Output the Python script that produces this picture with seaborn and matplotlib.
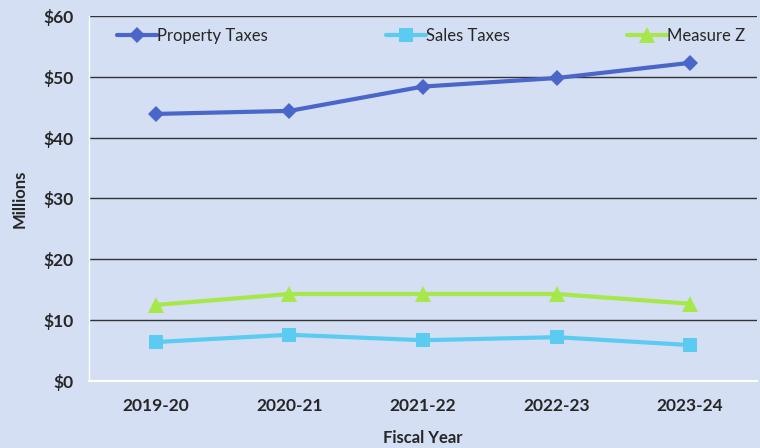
import matplotlib
matplotlib.use("Agg")
import matplotlib.pyplot as plt
import seaborn as sns
import pandas as pd

years = ["2019-20", "2020-21", "2021-22", "2022-23", "2023-24"]
property_taxes = [43.9, 44.4, 48.4, 49.8, 52.3]
sales_taxes = [6.4, 7.6, 6.7, 7.2, 5.9]
measure_z = [12.5, 14.3, 14.3, 14.3, 12.7]
series_names = ["Property Taxes", "Sales Taxes", "Measure Z"]
y_ticks = [0, 10, 20, 30, 40, 50, 60]

df = pd.DataFrame({
    "Year": years * 3,
    "Value": property_taxes + sales_taxes + measure_z,
    "Series": [series_names[0]] * 5 + [series_names[1]] * 5 + [series_names[2]] * 5,
})
df["x"] = df["Year"].map({y: i for i, y in enumerate(years)})

sns.set_theme(style="white")
plt.rcParams['font.family'] = ['Lato', 'DejaVu Sans']

bg = "#D4DFF4"
fig = plt.figure(figsize=(7.6, 4.48), dpi=100, facecolor=bg)
ax = fig.add_axes([0.117, 0.1496, 0.879, 0.8147])
ax.set_facecolor(bg)

palette = {"Property Taxes": "#4A66C8", "Sales Taxes": "#5BCBF2", "Measure Z": "#A6E84A"}
markers = {"Property Taxes": "D", "Sales Taxes": "s", "Measure Z": "^"}
msizes = {"Property Taxes": 8, "Sales Taxes": 10, "Measure Z": 11}

for name in series_names:
    sub = df[df["Series"] == name]
    sns.lineplot(data=sub, x="x", y="Value", ax=ax, color=palette[name],
                 marker=markers[name], markersize=msizes[name], linewidth=3,
                 markeredgewidth=0, label=name, zorder=3)

ax.set_xlim(-0.5, 4.5)
ax.set_ylim(0, 60)
ax.set_yticks(y_ticks)
ax.set_yticklabels([f"${v}" for v in y_ticks], fontsize=12.5, fontweight="bold")
ax.set_xticks(range(len(years)))
ax.set_xticklabels(years, fontsize=12.5, fontweight="bold")
ax.tick_params(axis="x", length=0, pad=12)
ax.tick_params(axis="y", length=5, color="white", width=1, pad=6)

for v in y_ticks[1:]:
    ax.axhline(v, color="#333333", linewidth=1, zorder=1)

for s in ["top", "right"]:
    ax.spines[s].set_visible(False)
ax.spines["left"].set_color("white")
ax.spines["bottom"].set_color("white")
ax.spines["left"].set_linewidth(1)
ax.spines["bottom"].set_linewidth(1.5)

ax.set_xlabel("Fiscal Year", fontsize=12, fontweight="bold", labelpad=12)
ax.set_ylabel("Millions", fontsize=12, fontweight="bold", labelpad=11)

leg = ax.legend(loc="upper left", bbox_to_anchor=(0.025, 1.0, 0.975, 0.0), mode="expand",
                ncol=3, frameon=False, fontsize=12, handlelength=2.4,
                handletextpad=0.0, borderaxespad=0.3)

fig.savefig("out.png", dpi=100, facecolor=bg)
